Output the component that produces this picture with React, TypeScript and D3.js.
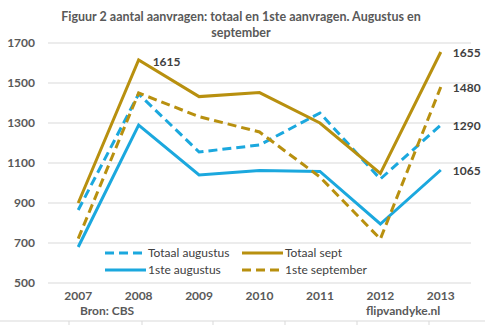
import React from "react";
import * as d3 from "d3";

const years = ["2007", "2008", "2009", "2010", "2011", "2012", "2013"];
const totaalAugustus = [865, 1445, 1155, 1190, 1350, 1020, 1290];
const totaalSept = [900, 1615, 1432, 1452, 1300, 1048, 1655];
const eersteAugustus = [680, 1290, 1040, 1062, 1058, 795, 1065];
const eersteSeptember = [722, 1450, 1332, 1255, 1030, 720, 1480];
const yTicks = [500, 700, 900, 1100, 1300, 1500, 1700];
const titleLines = [
  "Figuur 2 aantal aanvragen: totaal en 1ste aanvragen. Augustus en",
  "september",
];
const peakLabel = { year: "2008", value: 1615 };
const endLabels = [1655, 1480, 1290, 1065];
const tableCols = [69, 142, 213, 285, 357, 429];

const BLUE = "#1BA8DE";
const GOLD = "#B8900F";
const TEXT = "#595959";
const FONT = "Lato, 'Open Sans', sans-serif";

const series = [
  { name: "Totaal augustus", values: totaalAugustus, color: BLUE, dash: "9,5" },
  { name: "Totaal sept", values: totaalSept, color: GOLD, dash: "" },
  { name: "1ste augustus", values: eersteAugustus, color: BLUE, dash: "" },
  { name: "1ste september", values: eersteSeptember, color: GOLD, dash: "9,5" },
];

export default function App() {
  const W = 485;
  const H = 325;
  const x = d3.scaleBand<string>().domain(years).range([48, 471]);
  const cx = (yr: string) => (x(yr) as number) + x.bandwidth() / 2;
  const y = d3.scaleLinear().domain([500, 1700]).range([283, 43]);
  const line = d3
    .line<number>()
    .x((_, i) => cx(years[i]))
    .y((v) => y(v));

  const legendPos = [
    { lx: 105, ly: 253 },
    { lx: 242, ly: 253 },
    { lx: 105, ly: 270 },
    { lx: 242, ly: 270 },
  ];

  const lastYear = years[years.length - 1];

  return (
    <svg
      width={W}
      height={H}
      style={{ position: "absolute", left: 0, top: 0, background: "#fff" }}
      fontFamily={FONT}
    >
      <rect x={0} y={0} width={W} height={H} fill="#fff" />
      {titleLines.map((t, i) => (
        <text
          key={i}
          x={241}
          y={21 + i * 16}
          textAnchor="middle"
          fontSize={12.5}
          fontWeight="bold"
          fill={TEXT}
        >
          {t}
        </text>
      ))}
      {yTicks.map((t) => (
        <g key={t}>
          <line x1={48} x2={471} y1={y(t)} y2={y(t)} stroke="#D9D9D9" strokeWidth={1} />
          <text
            x={35}
            y={y(t)}
            dy="0.35em"
            textAnchor="end"
            fontSize={12}
            fontWeight="bold"
            fill={TEXT}
          >
            {t}
          </text>
        </g>
      ))}
      {years.map((yr) => (
        <text
          key={yr}
          x={cx(yr)}
          y={300}
          textAnchor="middle"
          fontSize={12}
          fontWeight="bold"
          fill={TEXT}
        >
          {yr}
        </text>
      ))}
      <text x={80} y={315} fontSize={12} fontWeight="bold" fill={TEXT}>
        Bron: CBS
      </text>
      <text x={366} y={315} fontSize={12} fontWeight="bold" fill={TEXT}>
        flipvandyke.nl
      </text>
      <line x1={0} x2={W} y1={321} y2={321} stroke="#D9D9D9" />
      {tableCols.map((c) => (
        <line key={c} x1={c} x2={c} y1={321} y2={H} stroke="#D9D9D9" />
      ))}
      {series.map((s) => (
        <path
          key={s.name}
          d={line(s.values) as string}
          fill="none"
          stroke={s.color}
          strokeWidth={3}
          strokeDasharray={s.dash || undefined}
          strokeLinejoin="miter"
        />
      ))}
      <text
        x={cx(peakLabel.year) + 14}
        y={y(peakLabel.value) + 2}
        dy="0.35em"
        fontSize={12}
        fontWeight="bold"
        fill="#404040"
      >
        {peakLabel.value}
      </text>
      {endLabels.map((v) => (
        <text
          key={v}
          x={cx(lastYear) + 12}
          y={y(v) + 1}
          dy="0.35em"
          fontSize={12}
          fontWeight="bold"
          fill="#404040"
        >
          {v}
        </text>
      ))}
      {series.map((s, i) => {
        const p = legendPos[i];
        return (
          <g key={s.name}>
            <line
              x1={p.lx}
              x2={p.lx + 41}
              y1={p.ly}
              y2={p.ly}
              stroke={s.color}
              strokeWidth={3}
              strokeDasharray={s.dash || undefined}
            />
            <text x={p.lx + 43} y={p.ly} dy="0.35em" fontSize={12} fill="#404040">
              {s.name}
            </text>
          </g>
        );
      })}
    </svg>
  );
}
